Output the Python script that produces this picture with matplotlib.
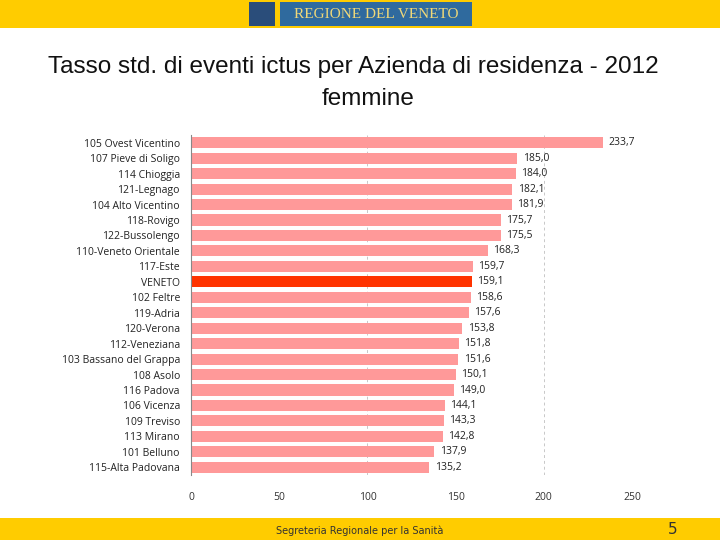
import numpy as np
import matplotlib.pyplot as plt
from matplotlib.patches import Rectangle

# data
aziende = ["105 Ovest Vicentino", "107 Pieve di Soligo", "114 Chioggia", "121-Legnago",
           "104 Alto Vicentino", "118-Rovigo", "122-Bussolengo", "110-Veneto Orientale",
           "117-Este", "VENETO", "102 Feltre", "119-Adria", "120-Verona", "112-Veneziana",
           "103 Bassano del Grappa", "108 Asolo", "116 Padova", "106 Vicenza", "109 Treviso",
           "113 Mirano", "101 Belluno", "115-Alta Padovana"]
tassi = [233.7, 185.0, 184.0, 182.1, 181.9, 175.7, 175.5, 168.3, 159.7, 159.1, 158.6,
         157.6, 153.8, 151.8, 151.6, 150.1, 149.0, 144.1, 143.3, 142.8, 137.9, 135.2]
x_ticks = [0, 50, 100, 150, 200, 250]

fig = plt.figure(figsize=(7.2, 5.4), dpi=100)
fig.patch.set_facecolor("white")

# header and footer bands
fig.patches.append(Rectangle((0, 1 - 28 / 540), 1, 28 / 540, transform=fig.transFigure,
                             facecolor="#FFCC00", edgecolor="none", zorder=0))
fig.patches.append(Rectangle((0, 0), 1, 22 / 540, transform=fig.transFigure,
                             facecolor="#FFCC00", edgecolor="none", zorder=0))
# logo
fig.patches.append(Rectangle((249 / 720, 1 - 26 / 540), 26 / 720, 24 / 540, transform=fig.transFigure,
                             facecolor="#2a4d7a", edgecolor="none", zorder=1))
fig.patches.append(Rectangle((280 / 720, 1 - 26 / 540), 192 / 720, 24 / 540, transform=fig.transFigure,
                             facecolor="#2f6a9e", edgecolor="none", zorder=1))
fig.text(376 / 720, 1 - 14 / 540, "REGIONE DEL VENETO", ha="center", va="center",
         color="#f0d878", fontsize=11, family="Liberation Serif", zorder=2)

fig.text(353 / 720, 1 - 67 / 540, "Tasso std. di eventi ictus per Azienda di residenza - 2012",
         ha="center", va="center", fontsize=17.5, family="Liberation Sans", color="#111111")
fig.text(368 / 720, 1 - 99 / 540, "femmine", ha="center", va="center", fontsize=17.5,
         family="Liberation Sans", color="#111111")

fig.text(360 / 720, 9 / 540, "Segreteria Regionale per la Sanità", ha="center", va="center",
         fontsize=7, family="DejaVu Sans", color="#333333")
fig.text(673 / 720, 10 / 540, "5", ha="center", va="center", fontsize=11,
         family="DejaVu Sans", color="#333333")

ax = fig.add_axes([191 / 720, 1 - 475 / 540, 441 / 720, 340 / 540])
y = np.arange(len(aziende))
colors = ["#FF3300" if a == "VENETO" else "#FF9999" for a in aziende]
ax.barh(y, tassi, height=0.72, color=colors, zorder=2)
for yi, v in zip(y, tassi):
    ax.text(v + 3, yi, f"{v:.1f}".replace(".", ","), va="center", ha="left",
            fontsize=7.5, family="Open Sans", color="#222222")

ax.set_xlim(0, 250)
ax.set_ylim(len(aziende) - 0.5, -0.5)
ax.set_yticks(y)
ax.set_yticklabels(aziende, fontsize=7.5, family="Open Sans", color="#222222")
ax.set_xticks(x_ticks)
ax.set_xticklabels([str(t) for t in x_ticks], fontsize=7.5, family="Open Sans", color="#333333")
ax.tick_params(axis="y", length=0, pad=8)
ax.tick_params(axis="x", length=0, pad=12)
for xv in [100, 200]:
    ax.axvline(xv, color="#c8c8c8", linestyle=(0, (3, 3)), linewidth=0.7, zorder=1)
for s in ["top", "right", "bottom"]:
    ax.spines[s].set_visible(False)
ax.spines["left"].set_color("#888888")
ax.spines["left"].set_linewidth(0.8)

fig.savefig("out.png", dpi=100)
